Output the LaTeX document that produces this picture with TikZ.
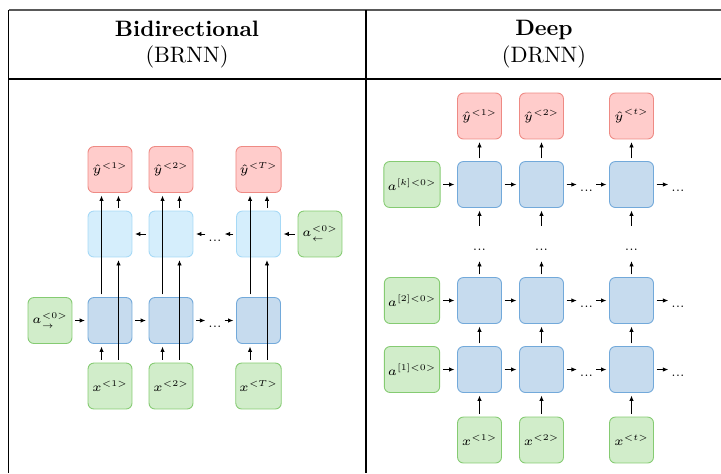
\RequirePackage{fix-cm}
\documentclass[tikz,border=0pt]{standalone}
\usepackage{amsmath,amssymb}
\usepackage{xcolor}
\definecolor{redfill}{HTML}{FFCCCB}
\definecolor{redline}{HTML}{EE8A84}
\definecolor{greenfill}{HTML}{D1EDCA}
\definecolor{greenline}{HTML}{85CB72}
\definecolor{bluefill}{HTML}{C6DBEE}
\definecolor{blueline}{HTML}{72A9DA}
\definecolor{skyfill}{HTML}{D5EEFC}
\definecolor{skyline}{HTML}{A6D9F6}
\usepackage{tikz}
\usetikzlibrary{calc,positioning,arrows.meta}

\newcommand{\cellfont}{\fontsize{5.6}{6.7}\selectfont}
\tikzset{
  cell/.style={rounded corners=2.6pt, minimum width=19.7pt, minimum height=20.6pt,
    inner sep=1.5pt, font=\cellfont, thin},
  outbox/.style={cell, draw=redline, fill=redfill},
  inbox/.style={cell, draw=greenline, fill=greenfill},
  hidbox/.style={cell, draw=blueline, fill=bluefill},
  backbox/.style={cell, draw=skyline, fill=skyfill},
  arr/.style={-{Latex[length=2.4pt,width=2pt]}, thin, shorten >=1.2pt, shorten <=1.2pt},
  ellip/.style={inner sep=0pt, font=\cellfont, text height=1.5ex},
  vellip/.style={ellip, minimum height=13pt},
}

\begin{document}
\begin{tikzpicture}[x=0.4484pt, y=-0.4484pt]
  \useasboundingbox (0,0) rectangle (721,473);

  % Table
  \draw[line width=0.8pt, black!65] (8.7,10) -- (721,10);
  \draw[line width=0.6pt] (8.7,79) -- (721,79);
  \draw[line width=0.6pt] (8.7,10) -- (8.7,473);
  \draw[line width=0.6pt] (366,10) -- (366,473);
  \node[align=center] (hbi) at (187,44.5) {\textbf{Bidirectional}\\(BRNN)};
  \node[align=center] (hdeep) at (544,44.5) {\textbf{Deep}\\(DRNN)};

  % Bidirectional: boxes
  \node[outbox] (y1) at (110,169.5) {$\hat{y}^{<1>}$};
  \node[outbox] (y2) at (171,169.5) {$\hat{y}^{<2>}$};
  \node[outbox] (y3) at (258.5,169.5) {$\hat{y}^{<T>}$};
  \node[backbox] (b1) at (110,234) {};
  \node[backbox] (b2) at (171,234) {};
  \node[ellip] (bd) at (215,234) {...};
  \node[backbox] (b3) at (258.5,234) {};
  \node[inbox] (bin) at (320,234) {$a_{\leftarrow}^{<0>}$};
  \node[inbox] (ain) at (50,320.5) {$a_{\rightarrow}^{<0>}$};
  \node[hidbox] (f1) at (110,320.5) {};
  \node[hidbox] (f2) at (171,320.5) {};
  \node[ellip] (fd) at (215,320.5) {...};
  \node[hidbox] (f3) at (258.5,320.5) {};
  \node[inbox] (x1) at (110,386) {$x^{<1>}$};
  \node[inbox] (x2) at (171,386) {$x^{<2>}$};
  \node[inbox] (x3) at (258.5,386) {$x^{<T>}$};

  % Bidirectional: forward and backward links
  \draw[arr] (ain) -- (f1);
  \draw[arr] (f1) -- (f2);
  \draw[arr] (f2) -- (fd);
  \draw[arr] (fd) -- (f3);
  \draw[arr] (bin) -- (b3);
  \draw[arr] (b3) -- (bd);
  \draw[arr] (bd) -- (b2);
  \draw[arr] (b2) -- (b1);

  % Bidirectional: vertical links
  \draw[arr] ([xshift=-3.8pt]x1.north) -- ([xshift=-3.8pt]f1.south);
  \draw[arr] ([xshift=-3.8pt]x2.north) -- ([xshift=-3.8pt]f2.south);
  \draw[arr] ([xshift=-3.8pt]x3.north) -- ([xshift=-3.8pt]f3.south);
  \draw[arr] ([xshift=3.8pt]x1.north) -- ([xshift=3.8pt]b1.south);
  \draw[arr] ([xshift=3.8pt]x2.north) -- ([xshift=3.8pt]b2.south);
  \draw[arr] ([xshift=3.8pt]x3.north) -- ([xshift=3.8pt]b3.south);
  \draw[arr] ([xshift=-3.8pt]f1.north) -- ([xshift=-3.8pt]y1.south);
  \draw[arr] ([xshift=-3.8pt]f2.north) -- ([xshift=-3.8pt]y2.south);
  \draw[arr] ([xshift=-3.8pt]f3.north) -- ([xshift=-3.8pt]y3.south);
  \draw[arr] ([xshift=3.8pt]b1.north) -- ([xshift=3.8pt]y1.south);
  \draw[arr] ([xshift=3.8pt]b2.north) -- ([xshift=3.8pt]y2.south);
  \draw[arr] ([xshift=3.8pt]b3.north) -- ([xshift=3.8pt]y3.south);

  % Deep: boxes
  \node[outbox] (dy1) at (479.5,116) {$\hat{y}^{<1>}$};
  \node[outbox] (dy2) at (541.5,116) {$\hat{y}^{<2>}$};
  \node[outbox] (dy3) at (631.5,116) {$\hat{y}^{<t>}$};
  \node[inbox] (k0) at (412,184.5) {$a^{[k]<0>}$};
  \node[hidbox] (k1) at (479.5,184.5) {};
  \node[hidbox] (k2) at (541.5,184.5) {};
  \node[ellip] (kd) at (586.5,184.5) {...};
  \node[hidbox] (k3) at (631.5,184.5) {};
  \node[ellip] (ke) at (678,184.5) {...};
  \node[vellip] (v1) at (479.5,243.5) {...};
  \node[vellip] (v2) at (541.5,243.5) {...};
  \node[vellip] (v3) at (631.5,243.5) {...};
  \node[inbox] (two0) at (412,300.5) {$a^{[2]<0>}$};
  \node[hidbox] (two1) at (479.5,300.5) {};
  \node[hidbox] (two2) at (541.5,300.5) {};
  \node[ellip] (twod) at (586.5,300.5) {...};
  \node[hidbox] (two3) at (631.5,300.5) {};
  \node[ellip] (twoe) at (678,300.5) {...};
  \node[inbox] (one0) at (412,369.5) {$a^{[1]<0>}$};
  \node[hidbox] (one1) at (479.5,369.5) {};
  \node[hidbox] (one2) at (541.5,369.5) {};
  \node[ellip] (oned) at (586.5,369.5) {...};
  \node[hidbox] (one3) at (631.5,369.5) {};
  \node[ellip] (onee) at (678,369.5) {...};
  \node[inbox] (dx1) at (479.5,440) {$x^{<1>}$};
  \node[inbox] (dx2) at (541.5,440) {$x^{<2>}$};
  \node[inbox] (dx3) at (631.5,440) {$x^{<t>}$};

  % Deep: links along time
  \draw[arr] (k0) -- (k1);
  \draw[arr] (k1) -- (k2);
  \draw[arr] (k2) -- (kd);
  \draw[arr] (kd) -- (k3);
  \draw[arr] (k3) -- (ke);
  \draw[arr] (two0) -- (two1);
  \draw[arr] (two1) -- (two2);
  \draw[arr] (two2) -- (twod);
  \draw[arr] (twod) -- (two3);
  \draw[arr] (two3) -- (twoe);
  \draw[arr] (one0) -- (one1);
  \draw[arr] (one1) -- (one2);
  \draw[arr] (one2) -- (oned);
  \draw[arr] (oned) -- (one3);
  \draw[arr] (one3) -- (onee);

  % Deep: links across layers
  \draw[arr] (dx1) -- (one1);
  \draw[arr] (dx2) -- (one2);
  \draw[arr] (dx3) -- (one3);
  \draw[arr] (one1) -- (two1);
  \draw[arr] (one2) -- (two2);
  \draw[arr] (one3) -- (two3);
  \draw[arr] (two1) -- (v1);
  \draw[arr] (two2) -- (v2);
  \draw[arr] (two3) -- (v3);
  \draw[arr] (v1) -- (k1);
  \draw[arr] (v2) -- (k2);
  \draw[arr] (v3) -- (k3);
  \draw[arr] (k1) -- (dy1);
  \draw[arr] (k2) -- (dy2);
  \draw[arr] (k3) -- (dy3);
\end{tikzpicture}
\end{document}
